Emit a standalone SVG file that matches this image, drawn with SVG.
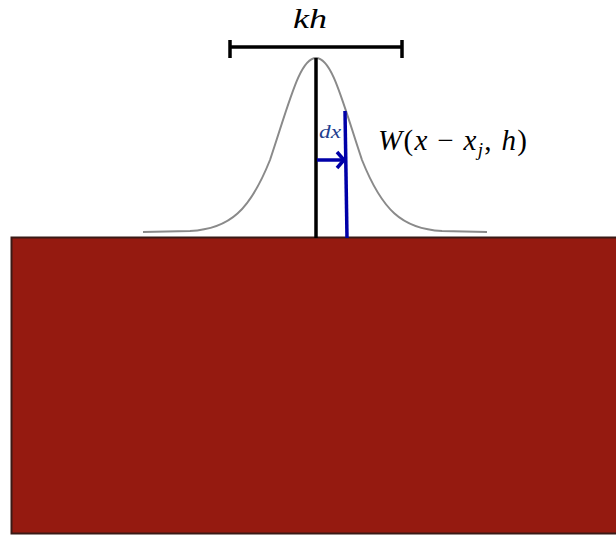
<svg xmlns="http://www.w3.org/2000/svg" width="616" height="537" viewBox="0 0 616 537">
<style>
.m{font-family:"Liberation Serif","DejaVu Serif",serif;font-style:italic}
.u{font-family:"Liberation Serif","DejaVu Serif",serif;font-style:normal}
</style>
<rect width="616" height="537" fill="#ffffff"/>
<g id="block"><rect x="11.5" y="237.5" width="606" height="296" fill="#951A10" stroke="#3a1a16" stroke-width="2"/></g>
<g id="kernel"><path d="M143,232 L190,231 C230,229 250,210 270,160 C290,100 300,58 316,58 C332,58 342,100 362,160 C382,210 402,229 442,231 L487,232" fill="none" stroke="#8a8a8a" stroke-width="2"/></g>
<g id="connectors">
<line x1="316" y1="58" x2="316" y2="238" stroke="#000" stroke-width="3.5"/>
<line x1="229" y1="47" x2="403" y2="47" stroke="#000" stroke-width="3.5"/>
<line x1="230" y1="40" x2="230" y2="58" stroke="#000" stroke-width="3.5"/>
<line x1="402" y1="40" x2="402" y2="58" stroke="#000" stroke-width="3.5"/>
<line x1="345" y1="111" x2="347" y2="238" stroke="#0000a8" stroke-width="3.5"/>
<line x1="317" y1="160" x2="343" y2="160" stroke="#0000a8" stroke-width="3.5"/>
<path d="M337,152 L344,160 L337,168" fill="none" stroke="#0000a8" stroke-width="3.5"/>
</g>
<g id="labels">
<text x="293" y="28" class="m" font-size="28" textLength="34" lengthAdjust="spacingAndGlyphs">kh</text>
<text x="319" y="138" class="m" font-size="18" fill="#1f3f8f" textLength="22" lengthAdjust="spacingAndGlyphs">dx</text>
<text x="378" y="150" class="m" font-size="29" textLength="149" lengthAdjust="spacing">W<tspan class="u">(</tspan>x <tspan class="u">−</tspan> x<tspan font-size="19" dy="6">j</tspan><tspan dy="-6" class="u">,</tspan> h<tspan class="u">)</tspan></text>
</g>
</svg>
